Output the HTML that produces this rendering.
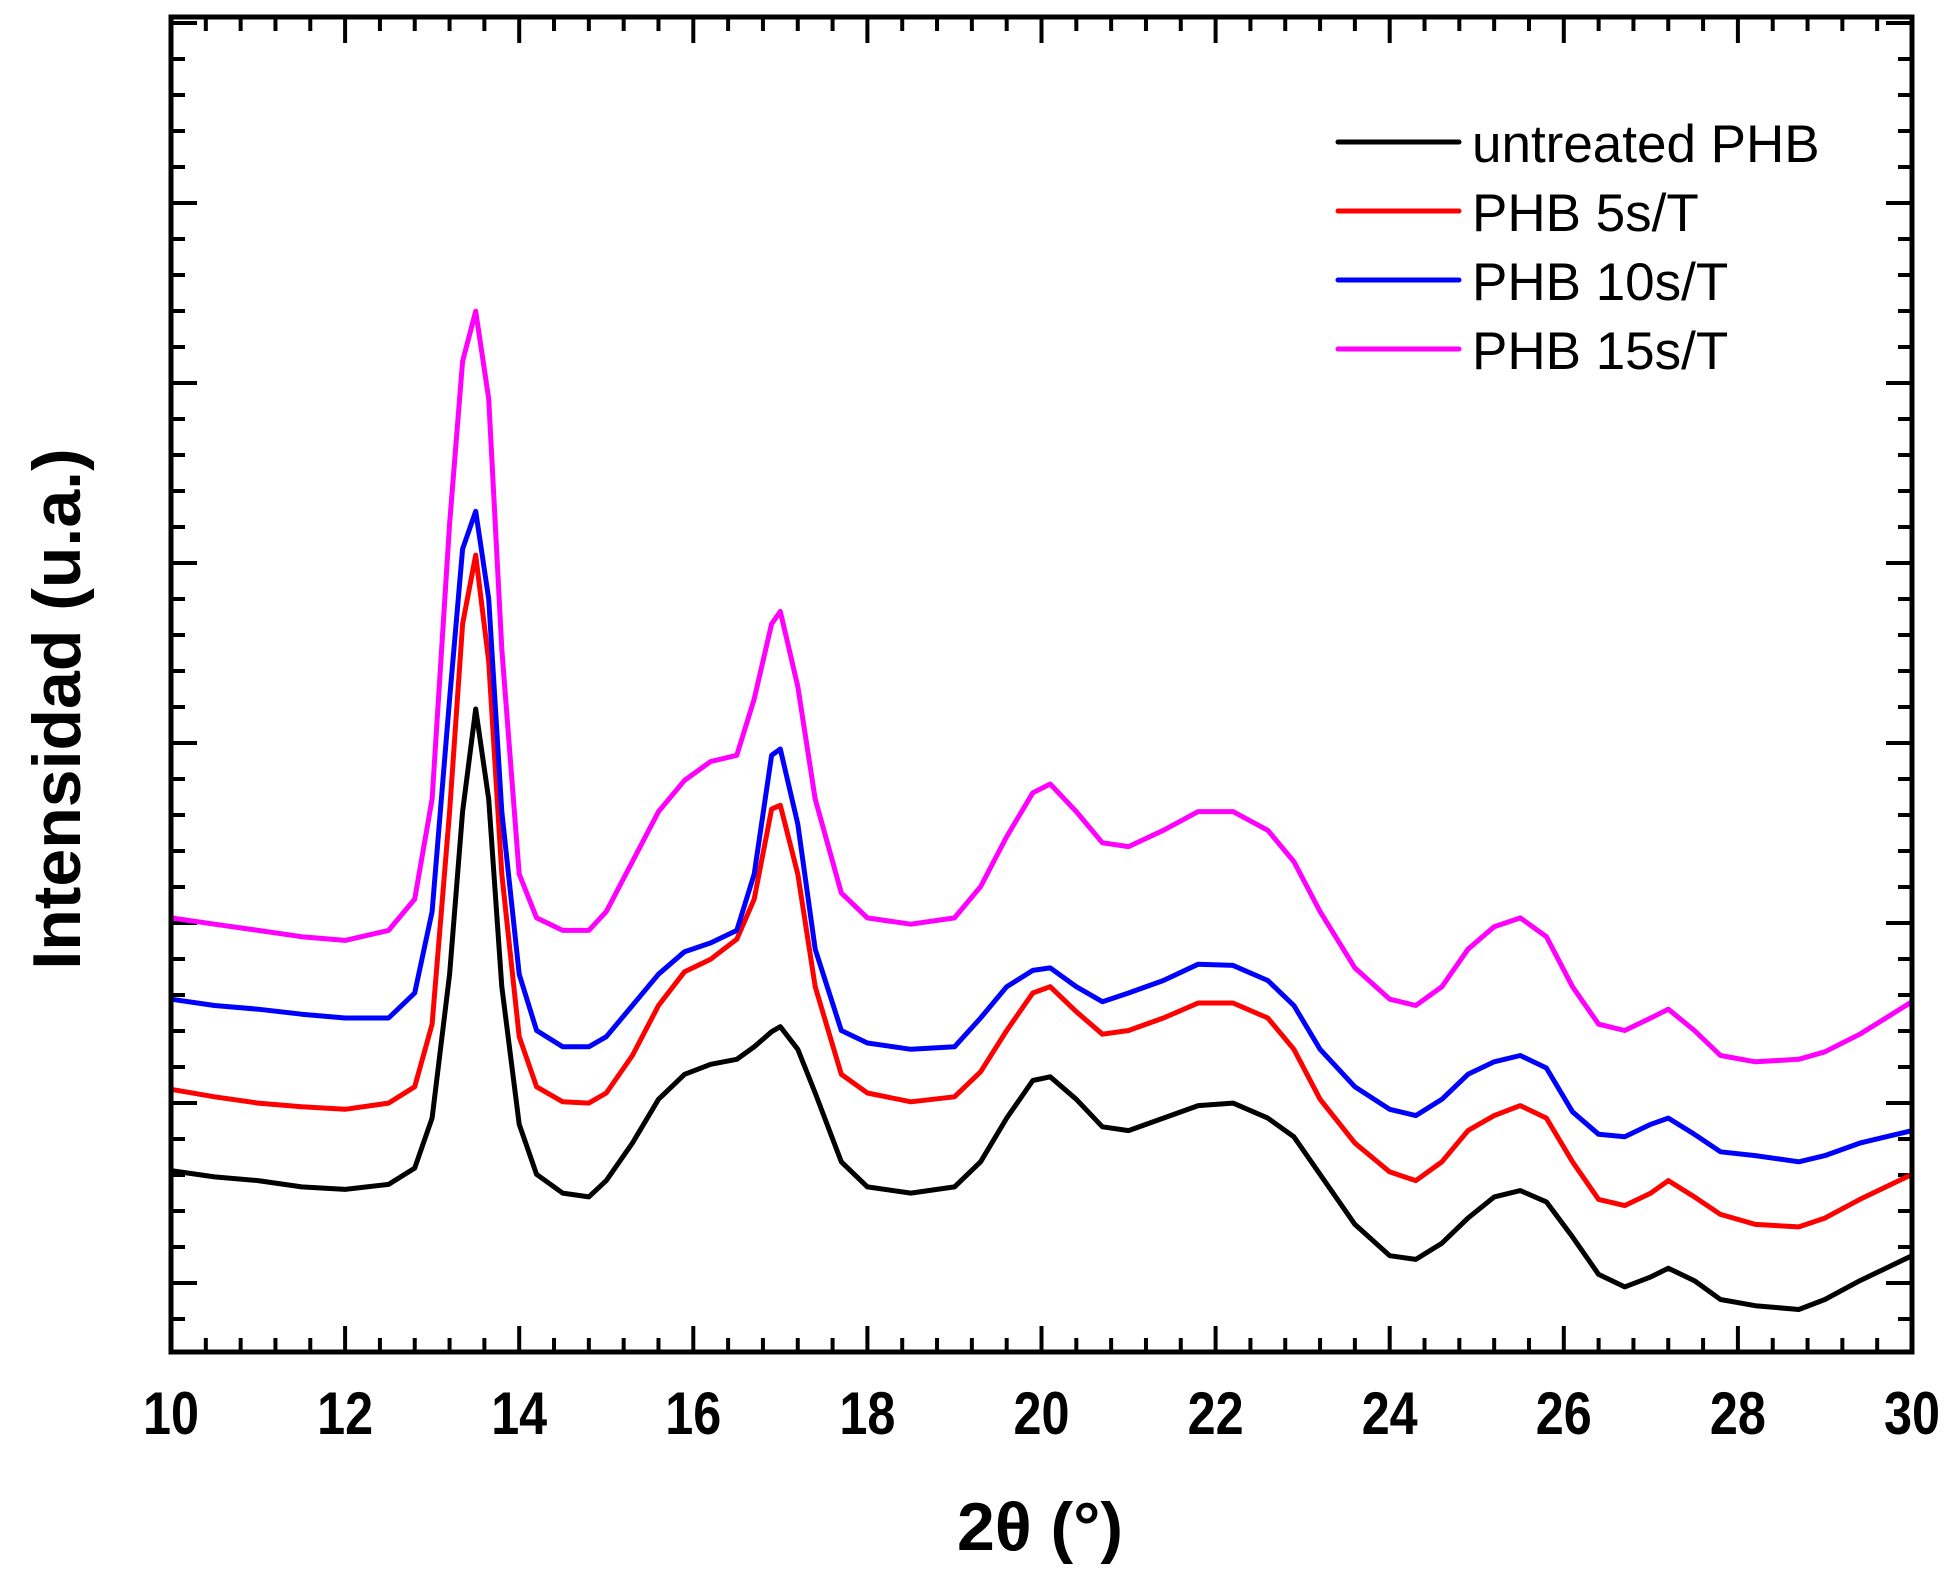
<!DOCTYPE html>
<html><head><meta charset="utf-8"><style>
html,body{margin:0;padding:0;background:#fff;}
svg{display:block;font-family:"Liberation Sans",Arial,sans-serif;}
</style></head><body>
<svg id="chart" width="1957" height="1572" viewBox="0 0 1957 1572" xmlns="http://www.w3.org/2000/svg">
<rect width="1957" height="1572" fill="#fff"/>
<g id="ticks"></g>
<g id="series"></g>
<rect x="171" y="17" width="1741" height="1335" fill="none" stroke="#000" stroke-width="5"/>
<g id="xlabels" font-size="60" font-weight="bold" text-anchor="middle"></g>
<text x="1040" y="1550" font-size="68" font-weight="bold" text-anchor="middle">2θ (°)</text>
<text transform="translate(80,709) rotate(-90)" font-size="68" font-weight="bold" text-anchor="middle">Intensidad (u.a.)</text>
<g id="legend" font-size="53"></g>
</svg>
<script>
const xVals=[10,10.5,11,11.5,12,12.5,12.8,13,13.2,13.35,13.5,13.65,13.8,14,14.2,14.5,14.8,15,15.3,15.6,15.9,16.2,16.5,16.7,16.9,17,17.2,17.4,17.7,18,18.5,19,19.3,19.6,19.9,20.1,20.4,20.7,21,21.4,21.8,22.2,22.6,22.9,23.2,23.6,24,24.3,24.6,24.9,25.2,25.5,25.8,26.1,26.4,26.7,27,27.2,27.5,27.8,28.2,28.7,29,29.4,29.7,30];
const untreated=[145,140,137,132,130,134,147,187,302,432,514,442,292,182,142,127,124,137,167,202,222,230,234,244,256,260,242,207,152,132,127,132,152,187,217,220,202,180,177,187,197,199,187,172,142,102,77,74,87,107,124,129,120,92,62,52,60,67,57,42,37,34,42,57,67,77];
const phb5=[210,204,199,196,194,199,212,262,432,582,637,552,382,252,212,200,199,207,237,277,304,314,330,362,434,437,382,292,222,207,200,204,224,257,287,292,272,254,257,267,279,279,267,242,202,167,144,137,152,177,189,197,187,152,122,117,127,137,124,110,102,100,107,122,132,142];
const phb10=[282,277,274,270,267,267,287,352,522,642,672,602,432,302,257,244,244,252,277,302,320,327,337,382,477,482,422,322,257,247,242,244,267,292,305,307,292,280,287,297,310,309,297,277,242,212,194,189,202,222,232,237,227,192,174,172,182,187,174,160,157,152,157,167,172,177];
const phb15=[347,342,337,332,329,337,362,442,662,792,832,762,562,382,347,337,337,352,392,432,457,472,477,522,582,592,532,442,367,347,342,347,372,412,447,454,432,407,404,417,432,432,417,392,352,307,282,277,292,322,340,347,332,292,262,257,267,274,257,237,232,234,240,254,267,280];
const xTickLabels=["10","12","14","16","18","20","22","24","26","28","30"];
const legendLabels=["untreated PHB","PHB 5s/T","PHB 10s/T","PHB 15s/T"];

const NS="http://www.w3.org/2000/svg";
const L=171,R=1912,T=17,B=1352;
function xs(v){return L+(v-10)/20*(R-L);}
function ys(v){return B-v*1.251;}
function mk(tag,attrs,parent){const e=document.createElementNS(NS,tag);for(const k in attrs)e.setAttribute(k,attrs[k]);parent.appendChild(e);return e;}

const tg=document.getElementById('ticks');
for(let i=0;i<=50;i++){
  const x=xs(10+i*0.4);const len=(i%5===0)?26:14;
  const t1=mk('line',{x1:x,x2:x,y1:B,y2:B-len,stroke:'#000','stroke-width':4},tg);
  
  
  const t2=mk('line',{x1:x,x2:x,y1:T,y2:T+len,stroke:'#000','stroke-width':4},tg);
  
  
}
for(let i=-2;i<=36;i++){
  const y=1283-i*36; if(y<T||y>B)continue;
  const len=(i%5===0)?26:14;
  const t1=mk('line',{x1:L,x2:L+len,y1:y,y2:y,stroke:'#000','stroke-width':4},tg);
  
  
  const t2=mk('line',{x1:R,x2:R-len,y1:y,y2:y,stroke:'#000','stroke-width':4},tg);
  
  
}
const xl=document.getElementById('xlabels');
xTickLabels.forEach((lab)=>{
  const t=mk('text',{x:xs(parseFloat(lab)),y:1434,textLength:56,lengthAdjust:'spacingAndGlyphs'},xl);
  
  
  t.textContent=lab;
});
const sg=document.getElementById('series');
const series=[[untreated,'#000','series-untreated'],[phb5,'#ff0000','series-phb-5s'],[phb10,'#0000ff','series-phb-10s'],[phb15,'#ff00ff','series-phb-15s']];
series.forEach(([d,c,n])=>{
  const pts=d.map((v,i)=>xs(xVals[i]).toFixed(1)+','+ys(v).toFixed(1)).join(' ');
  const p=mk('polyline',{points:pts,fill:'none',stroke:c,'stroke-width':5,'stroke-linejoin':'round','stroke-linecap':'round'},sg);
  
  
});
const lg=document.getElementById('legend');
const lys=[142,211,280,349];
legendLabels.forEach((lab,i)=>{
  const g=mk('g',{},lg);
  
  
  mk('line',{x1:1338,x2:1459,y1:lys[i],y2:lys[i],stroke:series[i][1],'stroke-width':5,'stroke-linecap':'round'},g);
  const t=mk('text',{x:1472,y:lys[i]+20},g);
  t.textContent=lab;
});
</script>
</body></html>
